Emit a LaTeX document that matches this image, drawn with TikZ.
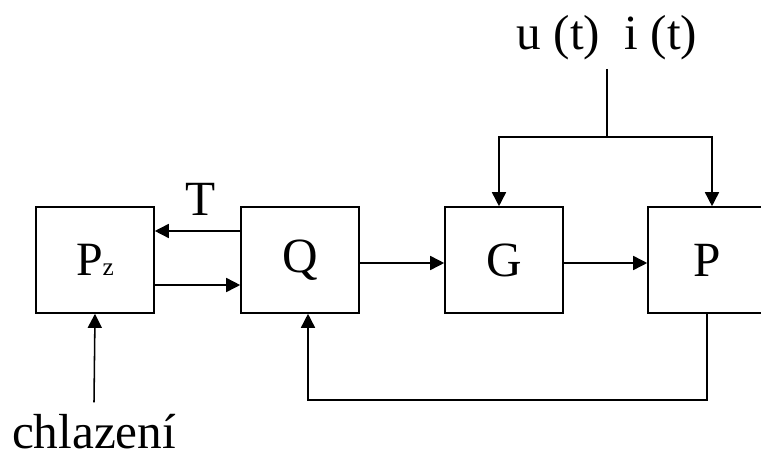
\documentclass[tikz,border=0pt]{standalone}
\usepackage{fontspec}
\setmainfont{Liberation Serif}
\usetikzlibrary{positioning,arrows.meta}

\tikzset{
  blockbox/.style={draw, line width=1.1pt, minimum width=2.95cm, minimum height=2.65cm,
    font=\fontsize{35}{40}\selectfont},
  sig/.style={line width=1.1pt},
  lbl/.style={font=\fontsize{35}{40}\selectfont, inner sep=0pt}
}

\begin{document}
\begin{tikzpicture}[
  x=0.025cm, y=-0.025cm,
  >={Triangle[length=10pt,width=10pt]}
]
  \useasboundingbox (0,0) rectangle (761,459);

  % Blocks
  \node[blockbox] (pz) at (95,260) {\fontsize{34}{38}\selectfont P{\fontsize{18}{18}\selectfont z}};
  \node[blockbox] (q) at (300,260) {Q};
  \node[blockbox] (g) at (504,260) {G};
  \node[blockbox] (p) at (707,260) {P};

  % Labels
  \node[lbl] (t) at (201,199) {T};
  \node[lbl] (chl) at (94,432) {chlazení};
  \node[lbl] (ui) at (607,38) {u (t)\ \ i (t)};

  \coordinate (src) at (607,69);
  \coordinate (split) at (607,137);

  % Connections between Pz and Q
  \draw[sig, ->] ([yshift=0.725cm]q.west) -- ([yshift=0.725cm]pz.east);
  \draw[sig, ->] ([yshift=-0.625cm]pz.east) -- ([yshift=-0.625cm]q.west);

  % Forward path
  \draw[sig, ->] ([yshift=-0.075cm]q.east) -- ([yshift=-0.075cm]g.west);
  \draw[sig, ->] ([yshift=-0.075cm]g.east) -- ([yshift=-0.075cm]p.west);

  % Cooling input
  \draw[sig, ->] ([yshift=0.3cm]chl.north) -- (pz.south);

  % Supply u(t), i(t)
  \draw[sig] (src) -- (split);
  \draw[sig, ->] (split) -| ([xshift=-0.125cm]g.north);
  \draw[sig, ->] (split) -| ([xshift=0.125cm]p.north);

  % Feedback from P to Q
  \draw[sig, ->] (p.south) -- ++(0,86) -| ([xshift=0.2cm]q.south);
\end{tikzpicture}
\end{document}
